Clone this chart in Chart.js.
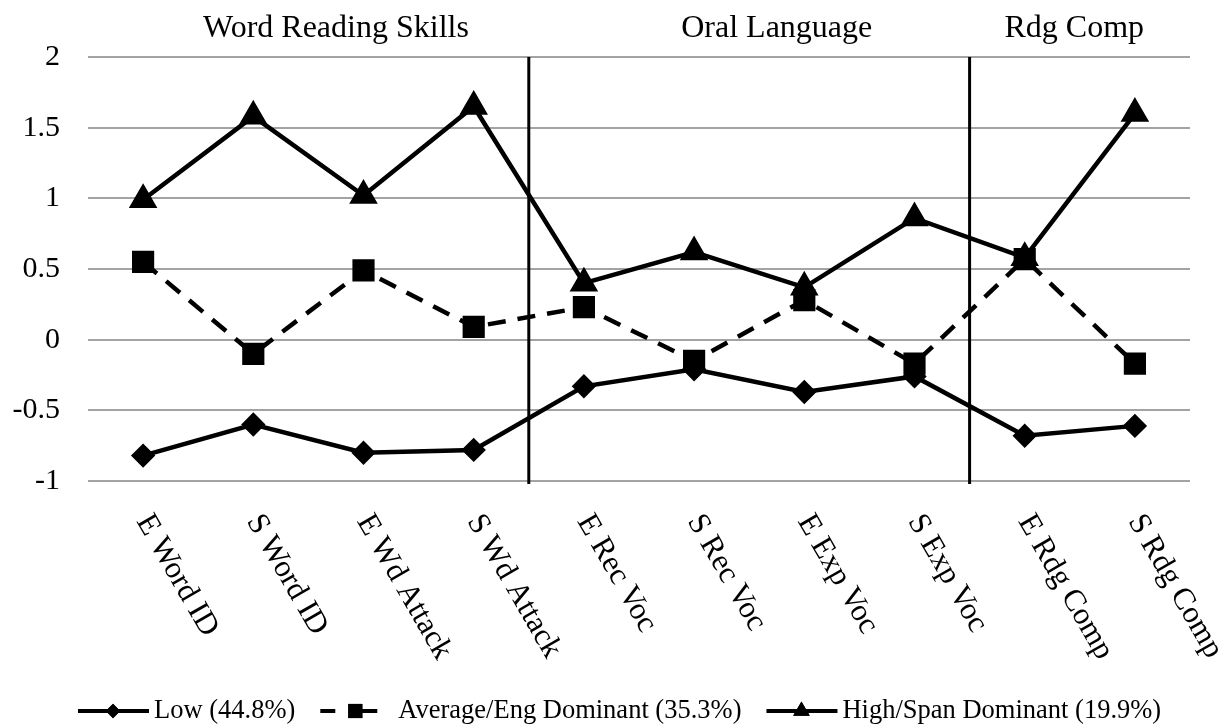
<!DOCTYPE html>
<html lang="en">
<head>
    <meta charset="UTF-8">
    <title>Reading Profiles</title>
    <script src="https://cdn.jsdelivr.net/npm/chart.js"></script>
    <style>
        body, html {
            margin: 0;
            padding: 0;
            background-color: #ffffff;
        }
        .chart-container {
            width: 1222px;
            height: 726px;
        }
    </style>
</head>
<body>
    <div class="chart-container">
        <canvas id="profileChart" width="1222" height="726"></canvas>
    </div>

    <script>
        // Values
        const categories = ['E Word ID', 'S Word ID', 'E Wd Attack', 'S Wd Attack', 'E Rec Voc',
                            'S Rec Voc', 'E Exp Voc', 'S Exp Voc', 'E Rdg Comp', 'S Rdg Comp'];
        const lowValues = [-0.82, -0.60, -0.80, -0.78, -0.33, -0.21, -0.37, -0.26, -0.68, -0.61];
        const avgValues = [0.55, -0.10, 0.49, 0.09, 0.23, -0.15, 0.28, -0.17, 0.57, -0.17];
        const highValues = [0.99, 1.58, 1.02, 1.65, 0.40, 0.62, 0.37, 0.86, 0.58, 1.60];
        const seriesLabels = ['Low (44.8%)', 'Average/Eng Dominant (35.3%)', 'High/Span Dominant (19.9%)'];
        const sectionLabels = ['Word Reading Skills', 'Oral Language', 'Rdg Comp'];
        const sectionStarts = [0, 4, 8];
        const yMin = -1, yMax = 2, yStep = 0.5;

        const serif = '"Liberation Serif", "Times New Roman", serif';
        // where each section title sits, in category units on the x scale
        const titleAnchors = [1.75, 5.75, 8.45];

        // Section dividers, section titles, rotated x labels and legend
        const extrasPlugin = {
            id: 'extras',
            beforeDatasetsDraw(chart) {
                const ctx = chart.ctx;
                const x = chart.scales.x;
                const area = chart.chartArea;
                ctx.save();
                ctx.strokeStyle = '#000';
                ctx.lineWidth = 3;
                sectionStarts.slice(1).forEach(s => {
                    const px = (x.getPixelForValue(s - 1) + x.getPixelForValue(s)) / 2;
                    ctx.beginPath();
                    ctx.moveTo(px, area.top);
                    ctx.lineTo(px, area.bottom + 3);
                    ctx.stroke();
                });
                ctx.restore();
            },
            afterDraw(chart) {
                const ctx = chart.ctx;
                const x = chart.scales.x;
                const area = chart.chartArea;
                const step = x.getPixelForValue(1) - x.getPixelForValue(0);
                ctx.save();
                ctx.fillStyle = '#000';

                // section titles
                ctx.font = '32px ' + serif;
                ctx.textAlign = 'center';
                ctx.textBaseline = 'middle';
                sectionLabels.forEach((label, i) => {
                    ctx.fillText(label, x.getPixelForValue(0) + titleAnchors[i] * step, 29);
                });

                // rotated category labels
                ctx.font = '31px ' + serif;
                ctx.textAlign = 'left';
                categories.forEach((label, i) => {
                    ctx.save();
                    ctx.translate(x.getPixelForValue(i), area.bottom + 36);
                    ctx.rotate(60 * Math.PI / 180);
                    ctx.fillText(label, 0, 0);
                    ctx.restore();
                });

                // legend
                const ly = 711;
                ctx.font = '26.5px ' + serif;
                ctx.textBaseline = 'middle';
                ctx.lineWidth = 4;
                ctx.strokeStyle = '#000';
                let lx = 78;
                seriesLabels.forEach((label, i) => {
                    ctx.beginPath();
                    let textX;
                    if (i === 1) {
                        ctx.moveTo(lx, ly); ctx.lineTo(lx + 15, ly);
                        ctx.moveTo(lx + 40, ly); ctx.lineTo(lx + 57, ly);
                        textX = lx + 78;
                    } else {
                        ctx.moveTo(lx, ly); ctx.lineTo(lx + 71, ly);
                        textX = lx + 76;
                    }
                    ctx.stroke();
                    const ds = chart.data.datasets[i];
                    Chart.helpers.drawPoint(ctx, {
                        pointStyle: ds.pointStyle,
                        radius: ds.pointRadius * 0.8,
                        borderWidth: 0
                    }, lx + 35, ly);
                    ctx.fill();
                    ctx.fillText(label, textX, ly);
                    lx = textX + ctx.measureText(label).width + 25;
                });
                ctx.restore();
            }
        };

        new Chart(document.getElementById('profileChart').getContext('2d'), {
            type: 'line',
            data: {
                labels: categories,
                datasets: [{
                    label: seriesLabels[0],
                    data: lowValues,
                    borderColor: '#000',
                    backgroundColor: '#000',
                    borderWidth: 4.5,
                    pointStyle: 'rectRot',
                    pointRadius: 9,
                    pointHoverRadius: 9,
                    fill: false,
                    tension: 0
                }, {
                    label: seriesLabels[1],
                    data: avgValues,
                    borderColor: '#000',
                    backgroundColor: '#000',
                    borderWidth: 4.5,
                    borderDash: [18, 12],
                    pointStyle: 'rect',
                    pointRadius: 12.5,
                    pointHoverRadius: 12.5,
                    fill: false,
                    tension: 0
                }, {
                    label: seriesLabels[2],
                    data: highValues,
                    borderColor: '#000',
                    backgroundColor: '#000',
                    borderWidth: 4.5,
                    pointStyle: 'triangle',
                    pointRadius: 12,
                    pointHoverRadius: 12,
                    fill: false,
                    tension: 0
                }]
            },
            options: {
                responsive: false,
                animation: false,
                devicePixelRatio: 1,
                layout: { padding: { top: 57, right: 32, left: 0, bottom: 0 } },
                plugins: {
                    legend: { display: false },
                    tooltip: { enabled: false }
                },
                scales: {
                    x: {
                        offset: true,
                        ticks: { display: false },
                        grid: { display: false },
                        border: { display: false },
                        afterFit(scale) { scale.height = 245; }
                    },
                    y: {
                        min: yMin,
                        max: yMax,
                        ticks: {
                            stepSize: yStep,
                            color: '#000',
                            padding: 28,
                            font: { family: serif, size: 30 },
                            callback: v => String(v)
                        },
                        grid: { color: '#a3a3a3', lineWidth: 2, drawTicks: false },
                        border: { display: false },
                        afterFit(scale) { scale.width = 88; }
                    }
                }
            },
            plugins: [extrasPlugin]
        });
    </script>
</body>
</html>
